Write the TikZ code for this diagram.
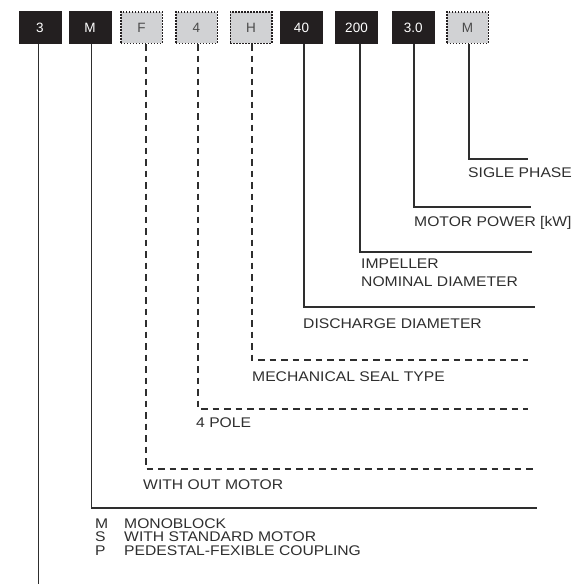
\documentclass[tikz,border=0pt]{standalone}
\usepackage{fontspec}
\setmainfont[FakeStretch=1.12]{Liberation Sans}
\newfontfamily\boxfont{Liberation Sans}
\definecolor{boxdark}{HTML}{231F20}
\definecolor{boxgrey}{HTML}{D1D2D4}
\definecolor{inkgrey}{HTML}{2E2E2E}
\definecolor{greytext}{HTML}{4A4A4A}
\begin{document}
\begin{tikzpicture}[x=1pt,y=-1pt,
  darkbox/.style={rectangle,fill=boxdark,minimum width=43pt,minimum height=33pt,inner sep=0pt,text=white,font=\boxfont\fontsize{13.5}{15}\selectfont},
  dotbox/.style={rectangle,fill=boxgrey,draw=boxdark,line width=1.5pt,dash pattern=on 1.5pt off 1.5pt,minimum width=41.5pt,minimum height=31.5pt,inner sep=0pt,text=greytext,font=\boxfont\fontsize{13.5}{15}\selectfont},
  solidlead/.style={draw=inkgrey,line width=1.2pt},
  dashlead/.style={draw=inkgrey,line width=1.1pt,dash pattern=on 6.5pt off 5pt},
  lbl/.style={anchor=base west,inner sep=0pt,text=inkgrey,font=\fontsize{14}{17.5}\selectfont}]
\useasboundingbox (0,0) rectangle (585,584);
% code boxes
\node[darkbox] (b1) at (40,27.5) {3};
\node[darkbox] (b2) at (90,27.5) {M};
\node[dotbox]  (b3) at (141.5,27.5) {F};
\node[dotbox]  (b4) at (196.5,27.5) {4};
\node[dotbox]  (b5) at (251,27.5) {H};
\node[darkbox] (b6) at (301.5,27.5) {40};
\node[darkbox] (b7) at (356.5,27.5) {200};
\node[darkbox] (b8) at (413.3,27.5) {3.0};
\node[dotbox]  (b9) at (467.5,27.5) {M};
% corners and ends
\coordinate (k1) at (38.5,584);
\coordinate (k2) at (91.7,508);  \coordinate (e2) at (537,508);
\coordinate (k3) at (146,469);   \coordinate (e3) at (533,469);
\coordinate (k4) at (198,409);   \coordinate (e4) at (528,409);
\coordinate (k5) at (252,360);   \coordinate (e5) at (528,360);
\coordinate (k6) at (304,307);   \coordinate (e6) at (535,307);
\coordinate (k7) at (360,252);   \coordinate (e7) at (532,252);
\coordinate (k8) at (414,207);   \coordinate (e8) at (531,207);
\coordinate (k9) at (469,159);   \coordinate (e9) at (528,159);
% leaders
\draw[solidlead] (b1.south -| k1) -- (k1);
\draw[solidlead] (b2.south -| k2) -- (k2) -- (e2);
\draw[dashlead] (b3.south -| k3) -- (k3) -- (e3);
\draw[dashlead] (b4.south -| k4) -- (k4) -- (e4);
\draw[dashlead] (b5.south -| k5) -- (k5) -- (e5);
\draw[solidlead] (b6.south -| k6) -- (k6) -- (e6);
\draw[solidlead] (b7.south -| k7) -- (k7) -- (e7);
\draw[solidlead] (b8.south -| k8) -- (k8) -- (e8);
\draw[solidlead] (b9.south -| k9) -- (k9) -- (e9);
% labels
\node[lbl] (t9) at (468,177.5) {SIGLE PHASE};
\node[lbl] (t8) at (414,226.7) {MOTOR POWER [kW]};
\node[lbl] (t7a) at (361,268.3) {IMPELLER};
\node[lbl] (t7b) at (361,286.7) {NOMINAL DIAMETER};
\node[lbl] (t6) at (303,328.3) {DISCHARGE DIAMETER};
\node[lbl] (t5) at (252,381) {MECHANICAL SEAL TYPE};
\node[lbl] (t4) at (196,427.3) {4 POLE};
\node[lbl] (t3) at (143,489.3) {WITH OUT MOTOR};
\node[lbl] (m1) at (95,528.3) {M};
\node[lbl] (m1t) at (124,528.3) {MONOBLOCK};
\node[lbl] (m2) at (95,541.7) {S};
\node[lbl] (m2t) at (124,541.7) {WITH STANDARD MOTOR};
\node[lbl] (m3) at (95,555.1) {P};
\node[lbl] (m3t) at (124,555.1) {PEDESTAL-FEXIBLE COUPLING};
\end{tikzpicture}
\end{document}
